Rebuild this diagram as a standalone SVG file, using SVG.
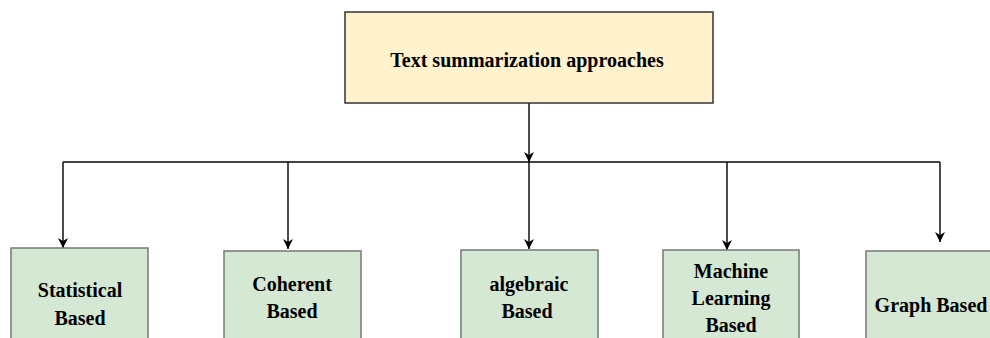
<svg xmlns="http://www.w3.org/2000/svg" width="990" height="338" viewBox="0 0 990 338">
<defs>
<style>
.lbl{font-family:"Liberation Serif","Times New Roman",serif;font-weight:bold;font-size:20px;fill:#000;text-anchor:middle}
.root{fill:#fff2cc;stroke:#333;stroke-width:1.5}
.leaf{fill:#d5e8d4;stroke:#777;stroke-width:1.5}
.conn{fill:none;stroke:#111;stroke-width:1.5}
.bus{fill:none;stroke:#444;stroke-width:2}
</style>
<marker id="arr" viewBox="0 0 10 10" refX="10" refY="5" markerWidth="10" markerHeight="10" markerUnits="userSpaceOnUse" orient="auto">
<path d="M0,0 L10,5 L0,10 L3,5 Z" fill="#000"/>
</marker>
</defs>
<rect width="990" height="338" fill="#fff"/>
<g id="connectors">
<path class="bus" d="M63,162 H940"/>
<path class="conn" d="M529,103 V162" marker-end="url(#arr)"/>
<path class="conn" d="M63,162 V248" marker-end="url(#arr)"/>
<path class="conn" d="M288,162 V249" marker-end="url(#arr)"/>
<path class="conn" d="M529,162 V249" marker-end="url(#arr)"/>
<path class="conn" d="M727,162 V250" marker-end="url(#arr)"/>
<path class="conn" d="M940,162 V242" marker-end="url(#arr)"/>
</g>
<g id="root">
<rect class="root" x="345" y="12" width="368" height="91"/>
<text class="lbl" x="527" y="67">Text summarization approaches</text>
</g>
<g id="statistical">
<rect class="leaf" x="11" y="248" width="137" height="100"/>
<text class="lbl" x="80" y="297">Statistical</text>
<text class="lbl" x="80" y="325">Based</text>
</g>
<g id="coherent">
<rect class="leaf" x="224" y="251" width="137" height="100"/>
<text class="lbl" x="292" y="291">Coherent</text>
<text class="lbl" x="292" y="318">Based</text>
</g>
<g id="algebraic">
<rect class="leaf" x="461" y="250" width="137" height="100"/>
<text class="lbl" x="529" y="291">algebraic</text>
<text class="lbl" x="527" y="318">Based</text>
</g>
<g id="machine-learning">
<rect class="leaf" x="663" y="250" width="136" height="100"/>
<text class="lbl" x="731" y="278">Machine</text>
<text class="lbl" x="731" y="305">Learning</text>
<text class="lbl" x="731" y="332">Based</text>
</g>
<g id="graph">
<rect class="leaf" x="866" y="251" width="137" height="100"/>
<text class="lbl" x="931" y="312">Graph Based</text>
</g>
</svg>
